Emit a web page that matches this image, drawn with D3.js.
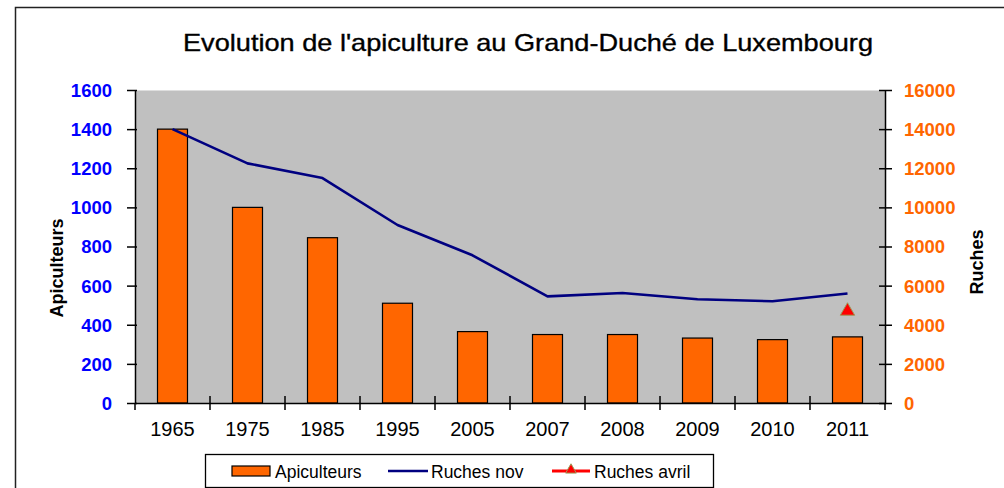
<!DOCTYPE html>
<html><head><meta charset="utf-8">
<script src="https://cdn.jsdelivr.net/npm/d3@7"></script>
<style>body{margin:0;background:#fff}svg{display:block}text{font-family:"Liberation Sans",Arial,sans-serif}</style>
</head><body><svg id="c" width="1004" height="488"></svg>
<script>
const categories = ["1965","1975","1985","1995","2005","2007","2008","2009","2010","2011"];
const apiculteurs = [1400,1000,845,510,365,350,350,332,324,338];
const ruchesNov = [14000,12250,11500,9100,7550,5450,5620,5300,5200,5600];
const ruchesAvril = [null,null,null,null,null,null,null,null,null,4700];
const leftTicks = [0,200,400,600,800,1000,1200,1400,1600];
const rightTicks = [0,2000,4000,6000,8000,10000,12000,14000,16000];

const svg = d3.select("#c");
const L=135,R=885,T=90,B=403;
// outer frame
svg.append("rect").attr("x",15.5).attr("y",7.5).attr("width",1100).attr("height",600)
  .attr("fill","none").attr("stroke","#222").attr("stroke-width",1.5);
svg.append("text").attr("x",528).attr("y",51).attr("text-anchor","middle")
  .attr("font-size",24).attr("fill","#000").attr("stroke","#000").attr("stroke-width",0.35)
  .attr("textLength",690).attr("lengthAdjust","spacingAndGlyphs")
  .text("Evolution de l'apiculture  au Grand-Duché de Luxembourg");

const x = d3.scaleBand().domain(categories).range([L,R]);
const yL = d3.scaleLinear().domain([0,1600]).range([B,T]);
const yR = d3.scaleLinear().domain([0,16000]).range([B,T]);

svg.append("rect").attr("x",L).attr("y",T).attr("width",R-L).attr("height",B-T).attr("fill","#c0c0c0");
svg.append("line").attr("x1",L).attr("x2",R).attr("y1",T+0.5).attr("y2",T+0.5).attr("stroke","#dedede");

const bw = 30;
svg.append("g").selectAll("rect").data(categories).join("rect")
  .attr("x",d=>x(d)+x.bandwidth()/2-bw/2).attr("width",bw)
  .attr("y",(d,i)=>yL(apiculteurs[i])).attr("height",(d,i)=>B-yL(apiculteurs[i]))
  .attr("fill","#ff6600").attr("stroke","#000").attr("stroke-width",1.2);

const line = d3.line().x((d,i)=>x(categories[i])+x.bandwidth()/2).y(d=>yR(d));
svg.append("path").datum(ruchesNov).attr("d",line).attr("fill","none")
  .attr("stroke","#000080").attr("stroke-width",2.6).attr("stroke-linejoin","round");

const tri = d3.symbol().type(d3.symbolTriangle).size(90);
svg.append("g").selectAll("path").data(ruchesAvril.map((v,i)=>({v,c:categories[i]})).filter(d=>d.v!=null))
  .join("path").attr("d",tri)
  .attr("transform",d=>`translate(${x(d.c)+x.bandwidth()/2},${yR(d.v)})`)
  .attr("fill","#ff0000").attr("stroke","#9c9c5a").attr("stroke-width",1);

// left axis
const ga = svg.append("g").attr("transform",`translate(${L},0)`)
  .call(d3.axisLeft(yL).tickValues(leftTicks).tickSize(8).tickSizeOuter(0).tickPadding(15).tickFormat(d3.format("d")));
ga.select(".domain").attr("stroke","#000").attr("stroke-width",1.5);
ga.selectAll(".tick line").attr("stroke","#000").attr("stroke-width",1.5).attr("x2",-8).attr("x1",2);
ga.selectAll("text").attr("fill","#0000ff").attr("font-weight","bold").attr("font-size",18.5).attr("font-family","Liberation Sans, Arial").attr("dy","0.35em").attr("x",-23);
// right axis
const gr = svg.append("g").attr("transform",`translate(${R},0)`)
  .call(d3.axisRight(yR).tickValues(rightTicks).tickSize(8).tickSizeOuter(0).tickPadding(18).tickFormat(d3.format("d")));
gr.select(".domain").attr("stroke","#000").attr("stroke-width",1.5);
gr.selectAll(".tick line").attr("stroke","#000").attr("stroke-width",1.5).attr("x1",-6).attr("x2",7);
gr.selectAll("text").attr("fill","#ff6600").attr("font-weight","bold").attr("font-size",18.5).attr("font-family","Liberation Sans, Arial").attr("dy","0.35em").attr("x",19);
// bottom axis
const gb = svg.append("g").attr("transform",`translate(0,${B})`)
  .call(d3.axisBottom(x).tickSize(0).tickPadding(26));
gb.select(".domain").attr("stroke","#000").attr("stroke-width",1.5);
gb.selectAll("text").attr("fill","#000").attr("font-size",20).attr("font-family","Liberation Sans, Arial").attr("dy","0.35em");
const bounds = categories.map(c=>x(c)).concat([R]);
svg.append("g").selectAll("line").data(bounds).join("line")
  .attr("x1",d=>d).attr("x2",d=>d).attr("y1",(d,i)=>(i===0||i===bounds.length-1)?B:B-7).attr("y2",B+7)
  .attr("stroke","#000").attr("stroke-width",1.5);

svg.append("text").attr("transform","translate(63,268) rotate(-90)").attr("text-anchor","middle")
  .attr("font-weight","bold").attr("font-size",18).text("Apiculteurs");
svg.append("text").attr("transform","translate(983,262) rotate(-90)").attr("text-anchor","middle")
  .attr("font-weight","bold").attr("font-size",18).text("Ruches");

// legend
const lg = svg.append("g");
lg.append("rect").attr("x",205.5).attr("y",454.5).attr("width",508).attr("height",33).attr("fill","#fff").attr("stroke","#000").attr("stroke-width",1.3);
const items = [
  {name:"Apiculteurs",type:"bar",x:232},
  {name:"Ruches nov",type:"line",x:388},
  {name:"Ruches avril",type:"tri",x:552}
];
items.forEach(it=>{
  if(it.type==="bar") lg.append("rect").attr("x",it.x).attr("y",466).attr("width",38).attr("height",10).attr("fill","#ff6600").attr("stroke","#000").attr("stroke-width",1.2);
  if(it.type==="line") lg.append("line").attr("x1",it.x).attr("x2",it.x+40).attr("y1",471).attr("y2",471).attr("stroke","#000080").attr("stroke-width",2.6);
  if(it.type==="tri"){ lg.append("line").attr("x1",it.x).attr("x2",it.x+38).attr("y1",471).attr("y2",471).attr("stroke","#ff0000").attr("stroke-width",3);
    lg.append("path").attr("d",tri.size(50)()).attr("transform",`translate(${it.x+19},470)`).attr("fill","#ff0000").attr("stroke","#9c9c5a"); }
  lg.append("text").attr("x",it.x+(it.type==="bar"?43:it.type==="line"?43:42)).attr("y",477.5).attr("font-size",17.5).attr("fill","#000").text(it.name);
});
</script></body></html>
